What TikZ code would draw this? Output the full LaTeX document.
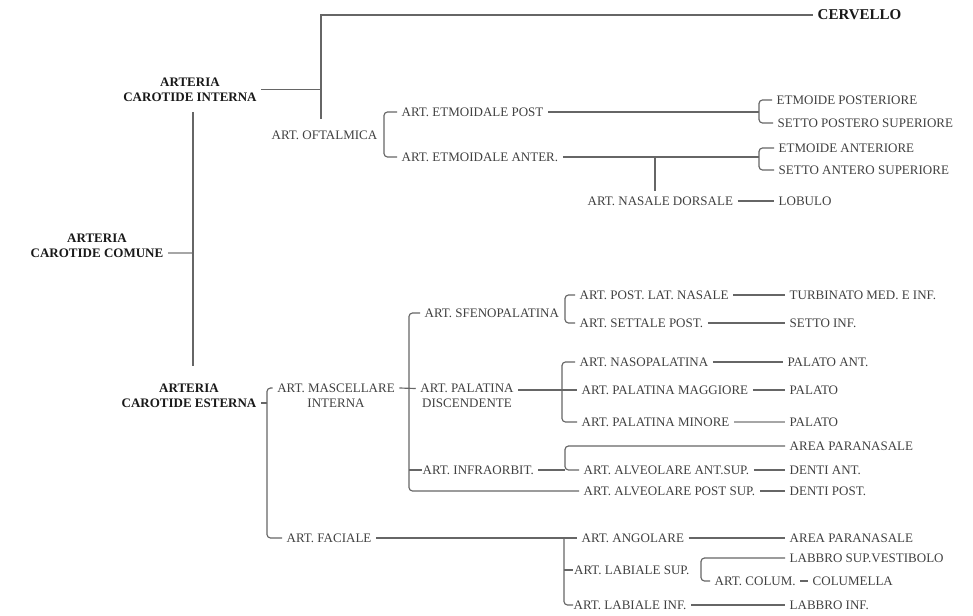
\documentclass[tikz,border=0pt]{standalone}
\usepackage{fontspec}
\setmainfont{Liberation Serif}
\begin{document}
\begin{tikzpicture}[x=0.03cm, y=-0.03cm,
    base/.style={inner sep=0pt, outer xsep=4pt, outer ysep=5pt, text=black!75},
    art/.style={base, anchor=west, text height=7.4pt, text depth=0pt, font=\fontsize{11.1}{12.8}\selectfont},
    art2/.style={base, align=center, font=\fontsize{11.1}{12.8}\selectfont},
    artb/.style={base, align=center, text=black!90, font=\fontsize{11.1}{12.8}\bfseries},
    wire/.style={black!60, line width=1pt},
    brk/.style={wire, rounded corners=3pt}]
\useasboundingbox (0,0) rectangle (973,616);
% Carotide interna
\node[artb] (ci) at (190,89.5) {ARTERIA\\CAROTIDE INTERNA};
\node[art, text=black!90, font=\fontsize{12.8}{14}\bfseries] (cerv) at (813,15) {CERVELLO};
\coordinate (jtop) at (321,119);
\draw[wire] (cerv.west) -| (jtop);
\draw[wire] (ci.east) -- (ci.east -| jtop);
% Oftalmica
\node[art] (oft) at (267,135) {ART. OFTALMICA};
\node[art] (ep) at (397,112) {ART. ETMOIDALE POST};
\node[art] (ea) at (397,157) {ART. ETMOIDALE ANTER.};
\coordinate (bo) at (384,135);
\draw[brk] (ep.west) -| (bo) |- (ea.west);
% Etmoidali
\node[art] (epo) at (772,100) {ETMOIDE POSTERIORE};
\node[art] (spo) at (773,123) {SETTO POSTERO SUPERIORE};
\node[art] (ean) at (774,148) {ETMOIDE ANTERIORE};
\node[art] (san) at (774,170) {SETTO ANTERO SUPERIORE};
\coordinate (b1) at (759,112);
\coordinate (b2) at (759,157);
\draw[wire] (ep.east) -- (ep.east -| b1);
\draw[brk] (epo.west) -| (b1) |- (spo.west);
\draw[wire] (ea.east) -- (ea.east -| b2);
\draw[brk] (ean.west) -| (b2) |- (san.west);
% Nasale dorsale
\node[art] (nd) at (583,201) {ART. NASALE DORSALE};
\node[art] (lob) at (774,201) {LOBULO};
\coordinate (jnd) at (655,157);
\draw[wire] (jnd) -- (jnd |- nd.north);
\draw[wire] (nd) -- (lob);
% Carotide comune and esterna
\node[artb] (cc) at (97,245.5) {ARTERIA\\CAROTIDE COMUNE};
\node[artb] (ce) at (189,395.5) {ARTERIA\\CAROTIDE ESTERNA};
\coordinate (jcc) at (193,253);
\draw[wire, black!35] (jcc -| cc.east) -- (jcc);
\draw[wire, shorten <=4pt, shorten >=10pt] (ci.south -| jcc) -- (ce.north -| jcc);
\node[art2] (mi) at (336,395.5) {ART. MASCELLARE\\INTERNA};
\node[art] (fa) at (282,538) {ART. FACIALE};
\coordinate (be) at (267,403);
\draw[wire] (be -| ce.east) -- (be);
\draw[brk] ([yshift=6.4pt]mi.west) -| (be) |- (fa.west);
% Mascellare interna
\node[art] (sf) at (420,313) {ART. SFENOPALATINA};
\node[art2] (pd) at (467,396) {ART. PALATINA\\DISCENDENTE};
\node[art] (io) at (418,470) {ART. INFRAORBIT.};
\node[art] (aps) at (579,491) {ART. ALVEOLARE POST SUP.};
\coordinate (bm) at (409,389);
\draw[wire] ([yshift=6.4pt]mi.east) -- ([yshift=6.4pt]pd.west);
\draw[brk] (sf.west) -| (bm) |- (aps.west);
\draw[wire, shorten >=-3pt] (io.west -| bm) -- (io.west);
% Sfenopalatina
\node[art] (pl) at (575,295) {ART. POST. LAT. NASALE};
\node[art] (st) at (575,323) {ART. SETTALE POST.};
\node[art] (tur) at (785,295) {TURBINATO MED. E INF.};
\node[art] (sinf) at (785,323) {SETTO INF.};
\coordinate (bs) at (565,309);
\draw[brk] (pl.west) -| (bs) |- (st.west);
\draw[wire] (pl) -- (tur);
\draw[wire] (st) -- (sinf);
% Palatina discendente
\node[art] (np) at (575,362) {ART. NASOPALATINA};
\node[art] (pma) at (577,390) {ART. PALATINA MAGGIORE};
\node[art] (pmi) at (577,422) {ART. PALATINA MINORE};
\node[art] (pan) at (783,362) {PALATO ANT.};
\node[art] (pal1) at (785,390) {PALATO};
\node[art] (pal2) at (785,422) {PALATO};
\coordinate (bp) at (562,390);
\draw[wire] (pma.west -| pd.east) -- (pma.west);
\draw[brk] (np.west) -| (bp) |- (pmi.west);
\draw[wire] (np) -- (pan);
\draw[wire] (pma) -- (pal1);
\draw[wire, black!35] (pmi) -- (pal2);
% Infraorbitale
\node[art] (apn1) at (785,446) {AREA PARANASALE};
\node[art] (aas) at (579,470) {ART. ALVEOLARE ANT.SUP.};
\node[art] (dant) at (785,470) {DENTI ANT.};
\node[art] (dpost) at (785,491) {DENTI POST.};
\coordinate (bi) at (565,458);
\draw[wire] (io.east) -- (io.east -| bi);
\draw[brk] (apn1.west) -| (bi) |- (aas.west);
\draw[wire] (aas) -- (dant);
\draw[wire] (aps) -- (dpost);
% Faciale
\node[art] (ang) at (577,538) {ART. ANGOLARE};
\node[art] (apn2) at (785,538) {AREA PARANASALE};
\node[art, outer xsep=1pt] (ls) at (573,570) {ART. LABIALE SUP.};
\node[art] (lsv) at (785,558) {LABBRO SUP.VESTIBOLO};
\node[art] (col) at (710,581) {ART. COLUM.};
\node[art] (colm) at (808,581) {COLUMELLA};
\node[art] (lbi) at (569,605) {ART. LABIALE INF.};
\node[art] (lbin) at (785,605) {LABBRO INF.};
\coordinate (bf) at (564,570);
\coordinate (bl) at (701,570);
\draw[wire] (fa.east) -- (ang.west);
\draw[brk, shorten >=-3.5pt] (ang.west -| bf) |- (lbi.west);
\draw[wire] (ls.west -| bf) -- (ls.west);
\draw[wire] (ang) -- (apn2);
\draw[brk] (lsv.west) -| (bl) |- (col.west);
\draw[wire] (col) -- (colm);
\draw[wire] (lbi) -- (lbin);
\end{tikzpicture}
\end{document}
